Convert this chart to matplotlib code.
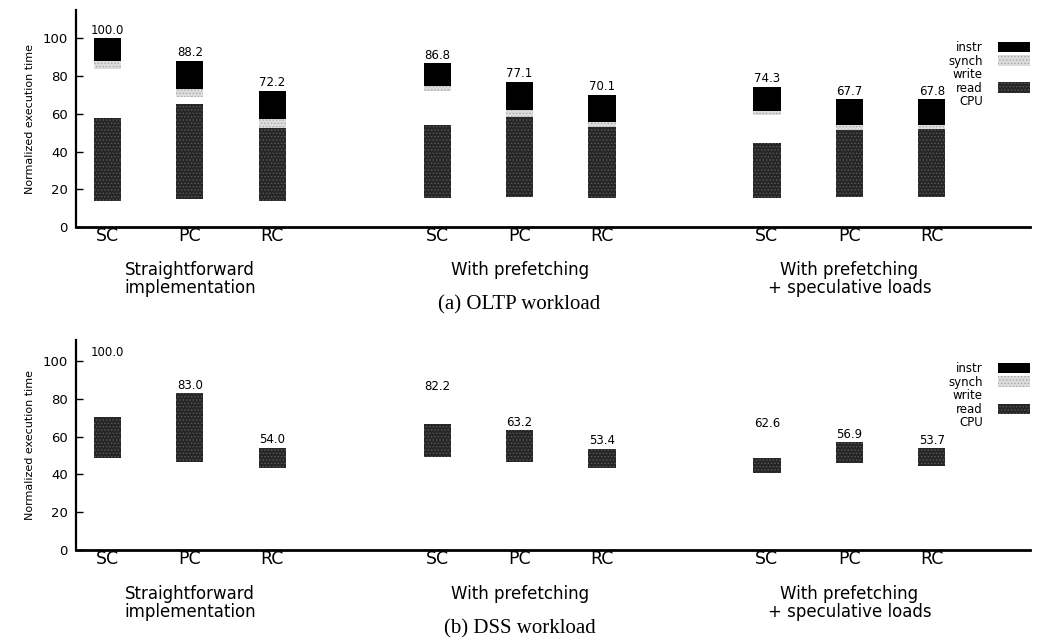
import numpy as np
import matplotlib
matplotlib.use('Agg')
import matplotlib.pyplot as plt

plt.rcParams['font.family'] = ['DejaVu Sans']
plt.rcParams['hatch.linewidth'] = 0.6

configs = ['SC', 'PC', 'RC']
groups = ['Straightforward\nimplementation', 'With prefetching', 'With prefetching\n+ speculative loads']
series = ['instr', 'synch', 'write', 'read', 'CPU']

# OLTP workload (bottom -> top: CPU, read, write, synch, instr)
oltp_cpu = [13.8, 14.8, 13.8, 15.2, 16.0, 15.2, 15.2, 15.7, 15.7]
oltp_read = [44.2, 50.2, 38.7, 39.1, 42.4, 37.9, 29.4, 35.6, 36.5]
oltp_write = [26.0, 3.8, 0.0, 17.8, 0.0, 0.0, 14.7, 0.0, 0.0]
oltp_synch = [4.0, 4.4, 4.6, 2.5, 3.5, 2.6, 2.2, 2.7, 1.8]
oltp_instr = [12.0, 15.0, 15.1, 12.2, 15.2, 14.4, 12.8, 13.7, 13.8]
oltp_total = [100.0, 88.2, 72.2, 86.8, 77.1, 70.1, 74.3, 67.7, 67.8]

# DSS workload
dss_cpu = [48.5, 46.7, 43.1, 49.4, 46.6, 43.5, 40.6, 45.9, 44.4]
dss_read = [22.0, 36.3, 10.9, 17.1, 16.6, 9.9, 7.9, 11.0, 9.3]
dss_write = [29.5, 0.0, 0.0, 15.7, 0.0, 0.0, 14.1, 0.0, 0.0]
dss_synch = [0.0] * 9
dss_instr = [0.0] * 9
dss_total = [100.0, 83.0, 54.0, 82.2, 63.2, 53.4, 62.6, 56.9, 53.7]

styles = {
    'CPU':   dict(facecolor='white', edgecolor='none'),
    'read':  dict(facecolor='#262626', edgecolor='#5a5a5a', hatch='.....'),
    'write': dict(facecolor='white', edgecolor='none'),
    'synch': dict(facecolor='#dcdcdc', edgecolor='#a8a8a8', hatch='.....'),
    'instr': dict(facecolor='black', edgecolor='none'),
}

x = np.array([0, 1, 2, 4, 5, 6, 8, 9, 10])
width = 0.33

fig = plt.figure(figsize=(10.58, 6.42), dpi=100)
ax1 = fig.add_axes([0.0718, 0.6464, 0.9017, 0.338])
ax2 = fig.add_axes([0.0718, 0.1433, 0.9017, 0.327])

# axes, parts, totals, ylim top, caption, group label y, caption y, legend y
panels = [
    (ax1, [oltp_cpu, oltp_read, oltp_write, oltp_synch, oltp_instr], oltp_total, 115,
     '(a) OLTP workload', -0.155, -0.36, 0.857),
    (ax2, [dss_cpu, dss_read, dss_write, dss_synch, dss_instr], dss_total, 111,
     '(b) DSS workload', -0.165, -0.375, 0.895),
]

for ax, parts, totals, ytop, caption, gy, cy, ly in panels:
    bottom = np.zeros(len(x))
    handles = {}
    for name, vals in zip(['CPU', 'read', 'write', 'synch', 'instr'], parts):
        h = ax.bar(x, vals, width, bottom=bottom, linewidth=0, label=name, **styles[name])
        handles[name] = h
        bottom += np.array(vals)
    for xi, t in zip(x, totals):
        ax.text(xi, t + 0.8, f'{t:.1f}', ha='center', va='bottom', fontsize=8.5)

    ax.set_xlim(-0.38, 11.19)
    ax.set_ylim(0, ytop)
    ax.set_yticks([0, 20, 40, 60, 80, 100])
    ax.set_xticks(x)
    ax.set_xticklabels(configs * 3, fontsize=12.5)
    ax.tick_params(axis='x', length=0, pad=0)
    ax.tick_params(axis='y', direction='in', length=5, width=1, labelsize=9.5, pad=6)
    ax.spines['top'].set_visible(False)
    ax.spines['right'].set_visible(False)
    ax.spines['left'].set_linewidth(1.6)
    ax.spines['bottom'].set_linewidth(2.0)
    ax.set_ylabel('Normalized execution time', fontsize=8, labelpad=5)

    for gx, g in zip([1, 5, 9], groups):
        ax.text(gx, gy, g, transform=ax.get_xaxis_transform(), ha='center', va='top',
                fontsize=12, linespacing=1.0)
    ax.text(5.0, cy, caption, transform=ax.get_xaxis_transform(), ha='center', va='center',
            fontsize=15, family='Liberation Serif')

    ax.legend([handles[s] for s in series], series, loc='upper right', bbox_to_anchor=(1.0, ly),
              frameon=False, markerfirst=False, fontsize=8.5, handlelength=2.7, handleheight=1.0,
              labelspacing=0.05, handletextpad=1.3, borderaxespad=0.0, borderpad=0.0)

fig.savefig('out.png', dpi=100)
